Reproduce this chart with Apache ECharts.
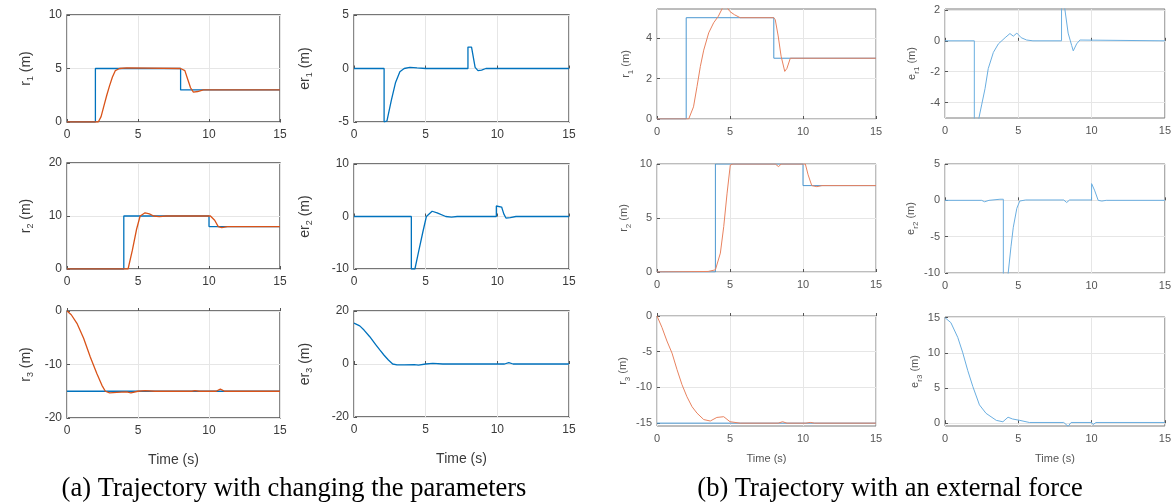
<!DOCTYPE html>
<html>
<head>
<meta charset="utf-8">
<script src="https://cdn.jsdelivr.net/npm/echarts@6/dist/echarts.min.js"></script>
<style>html,body{margin:0;padding:0;background:#fff;}#c{width:1174px;height:502px;}</style>
</head>
<body>
<div id="c"></div>
<script>
// ---------- data ----------
const xTicks = [0, 5, 10, 15];

// (a) r1
const a1RefT = [0, 2, 2, 8, 8, 15];
const a1RefV = [0, 0, 5, 5, 3, 3];
const a1ActT = [0, 2.2, 2.4, 2.6, 2.8, 3.0, 3.2, 3.4, 3.7, 4.2, 8.0, 8.3, 8.5, 8.7, 8.9, 9.2, 9.6, 15];
const a1ActV = [0, 0, 0.5, 1.5, 2.5, 3.4, 4.2, 4.8, 5.0, 5.05, 5.0, 4.8, 4.0, 3.2, 2.8, 2.85, 3.0, 3.0];
// (a) er1
const a2T = [0, 2.1, 2.1, 2.3, 2.6, 2.9, 3.2, 3.5, 3.9, 4.4, 5.0, 7.95, 7.95, 8.2, 8.45, 8.65, 8.9, 9.2, 15];
const a2V = [0, 0, -5, -4.9, -3.0, -1.3, -0.3, 0, 0.1, 0.05, 0, 0, 2.0, 2.0, 0.1, -0.2, -0.15, 0, 0];
// (a) r2
const a3RefT = [0, 4, 4, 10, 10, 15];
const a3RefV = [0, 0, 10, 10, 8, 8];
const a3ActT = [0, 4.3, 4.6, 4.9, 5.15, 5.5, 5.8, 6.1, 6.5, 7.0, 10.1, 10.4, 10.65, 10.9, 11.3, 15];
const a3ActV = [0, 0, 3.5, 7.5, 10.0, 10.6, 10.4, 10.0, 9.9, 10.0, 10.0, 9.2, 8.0, 7.8, 8.0, 8.0];
// (a) er2
const a4T = [0, 4.0, 4.0, 4.25, 4.5, 4.8, 5.05, 5.45, 5.8, 6.4, 6.8, 7.2, 9.93, 9.93, 10.3, 10.45, 10.6, 10.9, 11.3, 15];
const a4V = [0, 0, -10, -10, -6.8, -3.0, 0, 1.0, 0.7, 0, -0.1, 0, 0, 2.0, 1.8, 0.5, -0.3, -0.2, 0, 0];
// (a) r3
const a5RefT = [0, 15];
const a5RefV = [-15, -15];
const a5ActT = [0, 0.3, 0.7, 1.17, 1.64, 2.1, 2.46, 2.7, 3.0, 3.5, 4.2, 4.5, 5.0, 5.5, 6.2, 8.8, 9.0, 9.3, 10.5, 10.8, 11.1, 15];
const a5ActV = [0, -0.7, -2.3, -5.1, -8.6, -11.7, -13.9, -15.0, -15.3, -15.2, -15.1, -15.3, -15.0, -14.9, -15.0, -15.0, -14.9, -15.0, -15.0, -14.6, -15.0, -15.0];
// (a) er3
const a6T = [0, 0.4, 0.7, 1.1, 1.5, 1.8, 2.1, 2.4, 2.7, 3.0, 3.5, 4.2, 4.5, 5.0, 5.5, 6.2, 10.5, 10.8, 11.1, 15];
const a6V = [15.4, 14.4, 12.8, 10.3, 7.4, 5.3, 3.3, 1.5, 0, -0.3, -0.3, -0.2, -0.4, 0, 0.2, 0, 0, 0.5, 0, 0];

// (b) r1
const b1RefT = [0, 2, 2, 8, 8, 15];
const b1RefV = [0, 0, 5, 5, 3, 3];
const b1ActT = [0, 2.17, 2.5, 2.74, 2.97, 3.2, 3.54, 3.88, 4.2, 4.5, 4.8, 5.0, 5.3, 5.7, 8.0, 8.1, 8.3, 8.5, 8.75, 8.9, 9.13, 15];
const b1ActV = [0, 0, 0.6, 1.6, 2.6, 3.4, 4.25, 4.75, 5.07, 5.5, 5.5, 5.3, 5.15, 5.0, 5.0, 4.9, 4.1, 3.1, 2.35, 2.5, 3.0, 3.0];
// (b) er1
const b2T = [0, 2.0, 2.0, 2.27, 2.5, 2.73, 2.95, 3.3, 3.64, 4.1, 4.43, 4.66, 4.9, 5.2, 5.57, 6.0, 7.95, 7.95, 8.14, 8.4, 8.64, 8.75, 8.98, 9.2, 15];
const b2V = [0, 0, -5.2, -5.2, -4.15, -3.1, -1.8, -0.75, -0.2, 0.2, 0.47, 0.3, 0.5, 0.2, 0.05, 0, 0, 2.3, 2.3, 0.5, -0.3, -0.65, -0.2, 0.05, 0];
// (b) r2
const b3RefT = [0, 4, 4, 10, 10, 15];
const b3RefV = [0, 0, 10, 10, 8, 8];
const b3ActT = [0, 3.5, 4.0, 4.1, 4.34, 4.57, 4.8, 5.02, 5.2, 8.1, 8.33, 8.5, 10.16, 10.35, 10.6, 10.95, 11.3, 15];
const b3ActV = [0, 0.05, 0.2, 0.3, 1.75, 4.2, 7.3, 9.9, 10.0, 10.0, 9.75, 10.0, 10.0, 9.0, 8.0, 7.9, 8.0, 8.0];
// (b) er2
const b4T = [0, 2.5, 2.7, 3.0, 3.75, 3.98, 3.98, 4.3, 4.5, 4.66, 4.9, 5.1, 5.5, 8.1, 8.3, 8.5, 10.0, 10.0, 10.2, 10.45, 10.7, 11.0, 15];
const b4V = [0, 0, -0.2, 0, 0.15, 0.15, -10.2, -10.2, -6.4, -3.7, -1.1, -0.1, 0.05, 0.05, -0.3, 0.05, 0.05, 2.3, 1.4, 0, -0.1, 0, 0];
// (b) r3
const b5RefT = [0, 15];
const b5RefV = [-15, -15];
const b5ActT = [0, 0.34, 0.68, 1.03, 1.37, 1.71, 2.05, 2.4, 2.74, 3.2, 3.65, 4.1, 4.57, 5.0, 5.7, 8.3, 8.6, 8.9, 10.2, 10.5, 10.8, 15];
const b5ActV = [0, -1.6, -3.5, -5.2, -7.5, -9.6, -11.3, -12.7, -13.6, -14.5, -14.7, -14.2, -14.1, -14.8, -15.0, -15.0, -14.8, -15.0, -15.0, -14.9, -15.0, -15.0];
// (b) er3
const b6T = [0, 0.4, 0.87, 1.2, 1.55, 1.9, 2.35, 2.8, 3.5, 3.95, 4.3, 4.6, 5.1, 5.75, 8.1, 8.4, 8.6, 10.0, 10.1, 10.3, 15];
const b6V = [15, 14.3, 12.2, 10.1, 7.5, 5.2, 2.6, 1.4, 0.4, 0.2, 0.85, 0.6, 0.4, 0.1, 0.1, -0.45, 0.1, 0.1, -0.2, 0.1, 0.1];

// y-axis tick labels
const a1Ticks = [0, 5, 10], a2Ticks = [-5, 0, 5];
const a3Ticks = [0, 10, 20], a4Ticks = [-10, 0, 10];
const a5Ticks = [-20, -10, 0], a6Ticks = [-20, 0, 20];
const b1Ticks = [0, 2, 4], b2Ticks = [-4, -2, 0, 2];
const b3Ticks = [0, 5, 10], b4Ticks = [-10, -5, 0, 5];
const b5Ticks = [-15, -10, -5, 0], b6Ticks = [0, 5, 10, 15];

// ---------- build ----------
const pairs = (t, v) => t.map((x, i) => [x, v[i]]);
const BLUE_A = '#0072BD', RED_A = '#D95319';
const BLUE_B = '#4b97d1', RED_B = '#e8825f', ERR_B = '#6aaee0';

const panels = [
  {g: [67, 15, 213, 107],  y: [0, 10, a1Ticks],    name: '{m|r}{s|1}{m| (m)}',   gap: 32, s: 'a', lines: [[a1RefT, a1RefV, BLUE_A], [a1ActT, a1ActV, RED_A]]},
  {g: [354, 15, 215, 107], y: [-5, 5, a2Ticks],    name: '{m|er}{s|1}{m| (m)}',  gap: 40, s: 'a', lines: [[a2T, a2V, BLUE_A]]},
  {g: [67, 163, 213, 106], y: [0, 20, a3Ticks],    name: '{m|r}{s|2}{m| (m)}',   gap: 32, s: 'a', lines: [[a3RefT, a3RefV, BLUE_A], [a3ActT, a3ActV, RED_A]]},
  {g: [354, 164, 215, 105],y: [-10, 10, a4Ticks],  name: '{m|er}{s|2}{m| (m)}',  gap: 40, s: 'a', lines: [[a4T, a4V, BLUE_A]]},
  {g: [67, 311, 213, 107], y: [-20, 0, a5Ticks],   name: '{m|r}{s|3}{m| (m)}',   gap: 32, s: 'a', lines: [[a5RefT, a5RefV, BLUE_A], [a5ActT, a5ActV, RED_A]], xname: true},
  {g: [354, 311, 215, 106],y: [-20, 20, a6Ticks],  name: '{m|er}{s|3}{m| (m)}',  gap: 40, s: 'a', lines: [[a6T, a6V, BLUE_A]], xname: true},
  {g: [657, 9, 219, 110],  y: [0, 5.43, b1Ticks],  name: '{m|r}{s|1}{m| (m)}',   gap: 22, s: 'b', lines: [[b1RefT, b1RefV, BLUE_B], [b1ActT, b1ActV, RED_B]]},
  {g: [945, 9, 220, 109],  y: [-5, 2.06, b2Ticks], name: '{m|e}{s|r1}{m| (m)}',  gap: 24, s: 'b', lines: [[b2T, b2V, ERR_B]]},
  {g: [657, 164, 219, 108],y: [0, 10, b3Ticks],    name: '{m|r}{s|2}{m| (m)}',   gap: 24, s: 'b', lines: [[b3RefT, b3RefV, BLUE_B], [b3ActT, b3ActV, RED_B]]},
  {g: [945, 164, 220, 109],y: [-10, 5, b4Ticks],   name: '{m|e}{s|r2}{m| (m)}',  gap: 24, s: 'b', lines: [[b4T, b4V, ERR_B]]},
  {g: [657, 316, 219, 110],y: [-15.4, 0, b5Ticks], name: '{m|r}{s|3}{m| (m)}',   gap: 24, s: 'b', lines: [[b5RefT, b5RefV, BLUE_B], [b5ActT, b5ActV, RED_B]], xname: true},
  {g: [945, 317, 220, 109],y: [-0.4, 15.1, b6Ticks],name: '{m|e}{s|r3}{m| (m)}', gap: 20, s: 'b', lines: [[b6T, b6V, ERR_B]], xname: true}
];

const grid = [], xAxis = [], yAxis = [], series = [];
panels.forEach((p, i) => {
  const isA = p.s === 'a';
  const labCol = isA ? '#3a3a3a' : '#555';
  const fs = isA ? 12 : 11;
  grid.push({left: p.g[0], top: p.g[1], width: p.g[2], height: p.g[3], show: true,
    borderColor: isA ? '#4a4a4a' : '#7a7a7a', borderWidth: isA ? 1.3 : 1, backgroundColor: '#fff'});
  xAxis.push({type: 'value', gridIndex: i, min: 0, max: 15, interval: 5,
    axisLine: {show: false}, axisTick: {show: true, inside: true, length: 3, lineStyle: {color: '#555'}},
    axisLabel: {color: labCol, fontSize: fs, fontFamily: 'Liberation Sans', margin: 7},
    splitLine: {show: true, lineStyle: {color: '#e6e6e6', width: 1}},
    name: p.xname ? 'Time (s)' : '', nameLocation: 'middle', nameGap: isA ? 35 : 27,
    nameTextStyle: {color: labCol, fontSize: isA ? 14 : 11, fontFamily: 'Liberation Sans'}});
  yAxis.push({type: 'value', gridIndex: i, min: p.y[0], max: p.y[1],
    axisLine: {show: false},
    axisTick: {show: true, inside: true, length: 3, lineStyle: {color: '#555'}, customValues: p.y[2]},
    axisLabel: {color: labCol, fontSize: fs, fontFamily: 'Liberation Sans', margin: 5, customValues: p.y[2]},
    splitLine: {show: true, lineStyle: {color: '#e6e6e6', width: 1}},
    name: p.name, nameLocation: 'middle', nameGap: p.gap, nameRotate: 90,
    nameTextStyle: {color: labCol, fontFamily: 'Liberation Sans',
      rich: {m: {fontSize: isA ? 14 : 11, color: labCol, lineHeight: 18},
             s: {fontSize: isA ? 9 : 8, color: labCol, lineHeight: 10, verticalAlign: 'bottom'}}}});
  p.lines.forEach(l => {
    series.push({type: 'line', xAxisIndex: i, yAxisIndex: i, data: pairs(l[0], l[1]),
      showSymbol: false, symbol: 'none', smooth: false, clip: true,
      lineStyle: {color: l[2], width: isA ? 1.3 : 1}, animation: false});
  });
});

const chart = echarts.init(document.getElementById('c'), null, {renderer: 'canvas'});
chart.setOption({
  animation: false,
  grid, xAxis, yAxis, series,
  graphic: [
    {type: 'text', x: 294, y: 489, style: {text: '(a) Trajectory with changing the parameters', fill: '#000',
      font: '26.5px "Liberation Serif", "Times New Roman", serif', textAlign: 'center', textVerticalAlign: 'middle'}},
    {type: 'text', x: 890, y: 489, style: {text: '(b) Trajectory with an external force', fill: '#000',
      font: '26.5px "Liberation Serif", "Times New Roman", serif', textAlign: 'center', textVerticalAlign: 'middle'}}
  ]
});
</script>
</body>
</html>
